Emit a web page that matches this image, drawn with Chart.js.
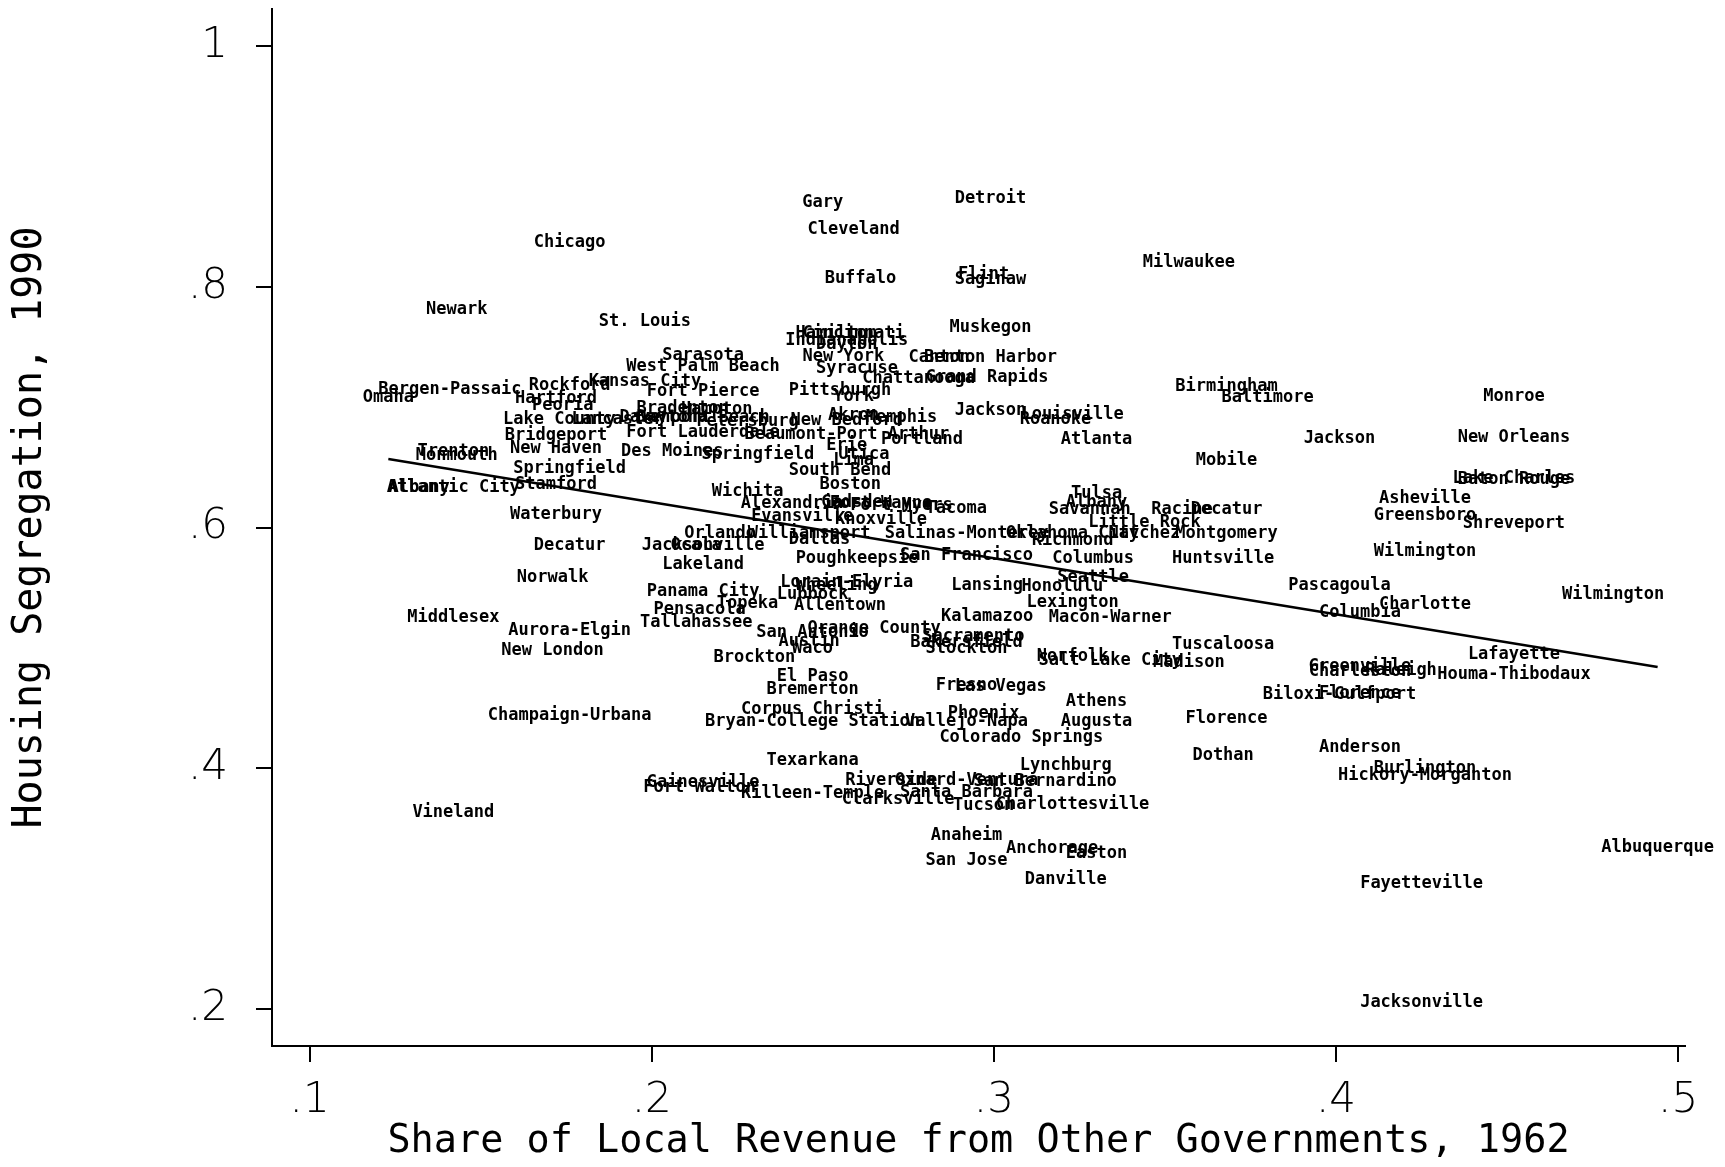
<!DOCTYPE html>
<html>
<head>
<meta charset="utf-8">
<script src="https://cdn.jsdelivr.net/npm/chart.js@4/dist/chart.umd.min.js"></script>
<style>
  html, body { margin: 0; padding: 0; background: #fff; }
  canvas { display: block; }
</style>
</head>
<body>
<canvas id="chart" width="1725" height="1167"></canvas>
<script>
// City labels, share of local revenue from other governments (1962), housing segregation (1990)
const cities = [
  'Gary', 'Detroit', 'Cleveland', 'Chicago', 'Milwaukee', 'Buffalo', 'Flint', 'Saginaw',
  'Newark', 'St. Louis', 'Muskegon', 'Cincinnati', 'Hamilton', 'Indianapolis', 'Dayton',
  'Sarasota', 'New York', 'West Palm Beach', 'Canton', 'Benton Harbor', 'Syracuse',
  'Chattanooga', 'Grand Rapids', 'Kansas City', 'Fort Pierce', 'Pittsburgh', 'York',
  'Rockford', 'Hartford', 'Peoria', 'Bergen-Passaic', 'Omaha', 'Bradenton', 'Hampton',
  'Lake County', 'Lancaster', 'Davenport', 'Daytona Beach', 'Petersburg', 'Akron', 'Memphis',
  'New Bedford', 'Jackson', 'Louisville', 'Roanoke', 'Bridgeport', 'New Haven',
  'Fort Lauderdale', 'Beaumont-Port Arthur', 'Portland', 'Atlanta', 'Des Moines', 'Springfield',
  'Utica', 'Lima', 'Erie', 'Trenton', 'Monmouth', 'Springfield', 'Stamford', 'Atlantic City',
  'Albany', 'South Bend', 'Boston', 'Wichita', 'Alexandria', 'Gadsden', 'Fort Wayne',
  'Fort Myers', 'Tacoma', 'Evansville', 'Knoxville', 'Salinas-Monterey', 'Orlando',
  'Williamsport', 'Dallas', 'Jacksonville', 'Ocala', 'Oklahoma City', 'Richmond', 'Tulsa',
  'Albany', 'Savannah', 'Little Rock', 'Racine', 'Decatur', 'Montgomery', 'Natchez',
  'San Francisco', 'Poughkeepsie', 'Columbus', 'Seattle', 'Lakeland', 'Huntsville',
  'Panama City', 'Topeka', 'Lorain-Elyria', 'Lubbock', 'Wheeling', 'Allentown', 'Lansing',
  'Honolulu', 'Lexington', 'Kalamazoo', 'Macon-Warner', 'Pensacola', 'Tallahassee',
  'San Antonio', 'Orange County', 'Austin', 'Waco', 'Sacramento', 'Bakersfield', 'Stockton',
  'Norfolk', 'Salt Lake City', 'Madison', 'Tuscaloosa', 'Brockton', 'El Paso', 'Bremerton',
  'Fresno', 'Las Vegas', 'Athens', 'Champaign-Urbana', 'Corpus Christi',
  'Bryan-College Station', 'Phoenix', 'Vallejo-Napa', 'Augusta', 'Colorado Springs',
  'Florence', 'Dothan', 'Texarkana', 'Lynchburg', 'Gainesville', 'Fort Walton',
  'Killeen-Temple', 'Riverside', 'Oxnard-Ventura', 'San Bernardino', 'Santa Barbara',
  'Clarksville', 'Tucson', 'Charlottesville', 'Anaheim', 'San Jose', 'Anchorage', 'Easton',
  'Danville', 'Vineland', 'Decatur', 'Norwalk', 'Middlesex', 'Aurora-Elgin', 'New London',
  'Waterbury', 'Birmingham', 'Baltimore', 'Monroe', 'Jackson', 'New Orleans', 'Mobile',
  'Lake Charles', 'Baton Rouge', 'Asheville', 'Greensboro', 'Shreveport', 'Wilmington',
  'Wilmington', 'Pascagoula', 'Charlotte', 'Columbia', 'Lafayette', 'Houma-Thibodaux',
  'Greenville', 'Charleston', 'Raleigh', 'Biloxi-Gulfport', 'Florence', 'Anderson',
  'Burlington', 'Hickory-Morganton', 'Albuquerque', 'Fayetteville', 'Jacksonville'
];

const revShare = [
  .250, .299, .259, .176, .357, .261, .297, .299,
  .143, .198, .299, .259, .254, .257, .257,
  .215, .256, .215, .284, .299, .260,
  .278, .298, .198, .215, .255, .259,
  .176, .172, .174, .141, .123, .209, .219,
  .173, .190, .204, .215, .228, .259, .273,
  .257, .299, .323, .318, .172, .172,
  .215, .257, .279, .330, .206, .231,
  .262, .259, .257, .142, .143, .176, .172, .142,
  .132, .255, .258, .228, .241, .260, .267,
  .273, .289, .244, .267, .292, .220,
  .246, .249, .215, .213, .323, .323, .330,
  .330, .328, .344, .355, .368, .368, .344,
  .292, .260, .329, .329, .215, .367,
  .215, .228, .257, .247, .254, .255, .298,
  .320, .323, .298, .334, .214, .213,
  .247, .265, .246, .247, .294, .292, .292,
  .323, .334, .357, .367, .230, .247, .247,
  .292, .302, .330, .176, .247,
  .247, .297, .292, .330, .308,
  .368, .367, .247, .321, .215, .214,
  .247, .270, .292, .315, .292,
  .272, .297, .323, .292, .292, .317, .330,
  .321, .142, .176, .171, .142, .176, .171,
  .172, .368, .380, .452, .401, .452, .368,
  .452, .452, .426, .426, .452, .426,
  .481, .401, .426, .407, .452, .452,
  .407, .407, .419, .401, .407, .407,
  .426, .426, .494, .425, .425
];

const segregation = [
  .870, .873, .848, .837, .820, .807, .810, .806,
  .781, .771, .766, .761, .761, .755, .752,
  .743, .742, .734, .741, .741, .732,
  .724, .725, .721, .713, .714, .709,
  .718, .707, .701, .715, .708, .699, .698,
  .690, .690, .691, .691, .688, .693, .691,
  .689, .697, .694, .690, .676, .666,
  .679, .677, .673, .673, .663, .661,
  .661, .656, .668, .663, .660, .649, .636, .633,
  .633, .647, .636, .630, .620, .621, .620,
  .618, .616, .609, .607, .595, .595,
  .595, .590, .585, .585, .595, .589, .628,
  .621, .615, .604, .615, .615, .595, .595,
  .577, .574, .574, .558, .569, .574,
  .547, .537, .554, .544, .552, .535, .552,
  .551, .538, .526, .525, .532, .521,
  .513, .516, .505, .499, .509, .504, .499,
  .493, .489, .488, .503, .492, .476, .465,
  .469, .468, .455, .444, .449,
  .439, .445, .439, .439, .425,
  .441, .410, .406, .402, .388, .384,
  .379, .390, .390, .389, .380,
  .374, .369, .370, .344, .323, .333, .329,
  .307, .363, .585, .558, .525, .514, .498,
  .611, .717, .708, .709, .674, .675, .656,
  .641, .640, .624, .610, .603, .580,
  .544, .552, .536, .529, .494, .478,
  .484, .480, .481, .461, .462, .417,
  .400, .394, .334, .304, .205
];

// fitted regression line, end points
const fitX = [.123, .494];
const fitY = [.657, .484];

const xTicks = [.1, .2, .3, .4, .5];
const yTicks = [.2, .4, .6, .8, 1];

const points = cities.map((c, i) => ({ x: revShare[i], y: segregation[i] }));
const fitPoints = fitX.map((x, i) => ({ x: x, y: fitY[i] }));

// teks nama kota di posisi titik
const cityLabels = {
  id: 'cityLabels',
  afterDatasetsDraw(chart) {
    const meta = chart.getDatasetMeta(0);
    const c = chart.ctx;
    c.save();
    c.font = 'bold 17px "DejaVu Sans Mono"';
    c.fillStyle = '#000';
    c.textAlign = 'center';
    c.textBaseline = 'middle';
    meta.data.forEach((pt, i) => c.fillText(cities[i], pt.x, pt.y));
    c.restore();
  }
};

const fmt = v => v === 1 ? '1' : String(v).replace(/^0/, '');

const ctx = document.getElementById('chart').getContext('2d');
new Chart(ctx, {
  type: 'scatter',
  data: {
    datasets: [
      { data: points, pointRadius: 0, showLine: false },
      {
        type: 'line', data: fitPoints, borderColor: '#000', borderWidth: 2.5,
        pointRadius: 0, fill: false, tension: 0
      }
    ]
  },
  options: {
    responsive: false,
    animation: false,
    layout: { padding: { top: 9, right: 40 } },
    plugins: { legend: { display: false }, tooltip: { enabled: false } },
    scales: {
      x: {
        type: 'linear', min: .089, max: .502,
        afterBuildTicks: s => { s.ticks = xTicks.map(v => ({ value: v })); },
        afterFit: s => { s.height = 121; s.paddingLeft = 0; s.paddingRight = 0; },
        grid: { drawOnChartArea: false, drawTicks: true, tickLength: 16, color: '#000', lineWidth: 2 },
        border: { display: true, color: '#000', width: 2 },
        ticks: {
          callback: fmt, color: '#000', padding: 14, maxRotation: 0,
          font: { family: '"DejaVu Sans"', size: 42, weight: 'lighter' }
        },
        title: {
          display: true, text: 'Share of Local Revenue from Other Governments, 1962', color: '#000',
          font: { family: '"DejaVu Sans Mono"', size: 38.5, weight: 'normal' },
          padding: { top: 0, bottom: 2 }
        }
      },
      y: {
        type: 'linear', min: .169, max: 1.031,
        afterBuildTicks: s => { s.ticks = yTicks.map(v => ({ value: v })); },
        afterFit: s => { s.width = 272; s.paddingTop = 0; s.paddingBottom = 0; },
        grid: { drawOnChartArea: false, drawTicks: true, tickLength: 16, color: '#000', lineWidth: 2 },
        border: { display: true, color: '#000', width: 2 },
        ticks: {
          callback: fmt, color: '#000', padding: 28,
          font: { family: '"DejaVu Sans"', size: 42, weight: 'lighter' }
        },
        title: {
          display: true, text: 'Housing Segregation, 1990', color: '#000',
          font: { family: '"DejaVu Sans Mono"', size: 40, weight: 'normal' },
          padding: { top: 7, bottom: 0 }
        }
      }
    }
  },
  plugins: [cityLabels]
});
</script>
</body>
</html>
